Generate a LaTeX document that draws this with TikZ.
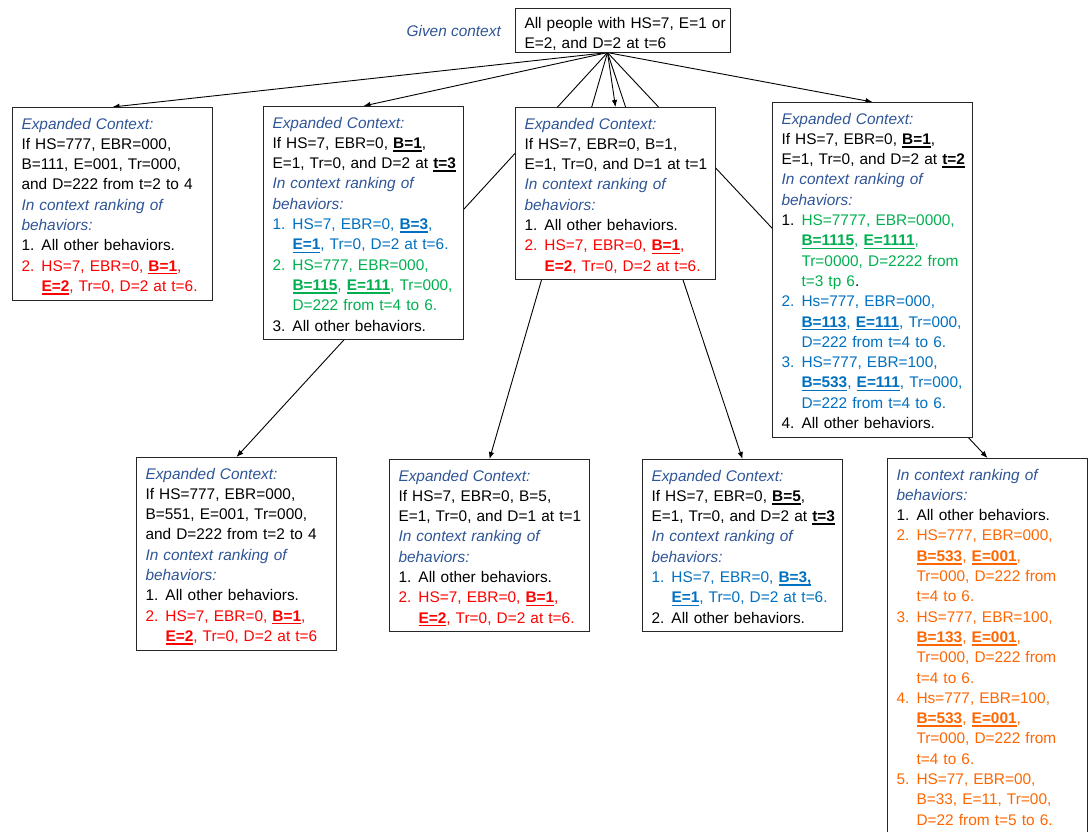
\documentclass[tikz,border=0pt]{standalone}
\usepackage{fontspec}
\setmainfont{Liberation Sans}
\usetikzlibrary{arrows.meta,backgrounds}
\definecolor{hdr}{RGB}{47,85,151}
\definecolor{rd}{RGB}{255,0,0}
\definecolor{bl}{RGB}{0,112,192}
\definecolor{gr}{RGB}{0,176,80}
\definecolor{og}{RGB}{255,102,0}
\newcommand\fs{\fontsize{15.4pt}{20.3pt}\selectfont}
\newcommand\hd[1]{\textcolor{hdr}{\itshape #1}}
\newcommand\bu[1]{\sbox0{\bfseries #1}\rlap{\rule[-3.3pt]{\wd0}{1.5pt}}\usebox0}
\newcommand\nm[1]{\makebox[20pt][l]{#1}}
\newcommand\ind{\hspace*{20pt}}
\newcommand\ft{\rule{0pt}{21.5pt}}
\newcommand\lt{\rule[-8.8pt]{0pt}{8.8pt}}
\tikzset{
  box/.style={draw=black!85, line width=1pt, fill=white, anchor=north west,
    inner xsep=9pt, inner ysep=0pt, text width=182pt, align=left, font=\fs},
  edge/.style={line width=0.9pt, -{Latex[length=7pt,width=5.5pt]}},
}
\begin{document}
\begin{tikzpicture}[x=1pt,y=-1pt]
\useasboundingbox (0,0) rectangle (1089,831);

\node[box, text width=197pt] (root) at (515,8)
 {\rule{0pt}{19.8pt}\mbox{All people with HS=7, E=1 or}\\
  \mbox{E=2, and D=2 at t=6}\rule[-3.5pt]{0pt}{3.5pt}};
\node[anchor=base east, inner sep=0pt, font=\fs\itshape, text=hdr] (gc) at (501,36.5) {Given context};
\coordinate (ap) at ([xshift=-15.5pt]root.south);

\node[box] (b1) at (12,107)
 {\ft\mbox{\hd{Expanded Context:}}\\
  \mbox{If HS=777, EBR=000,}\\
  \mbox{B=111, E=001, Tr=000,}\\
  \mbox{and D=222 from t=2 to 4}\\
  \mbox{\hd{In context ranking of}}\\
  \mbox{\hd{behaviors:}}\\
  \mbox{\nm{1.}All other behaviors.}\\
  \mbox{\color{rd}\nm{2.}HS=7, EBR=0, \bu{B=1},}\\
  \mbox{\color{rd}\ind\bu{E=2}, Tr=0, D=2 at t=6.}\lt};

\node[box] (b2) at (263,106)
 {\ft\mbox{\hd{Expanded Context:}}\\
  \mbox{If HS=7, EBR=0, \bu{B=1},}\\
  \mbox{E=1, Tr=0, and D=2 at \bu{t=3}}\\
  \mbox{\hd{In context ranking of}}\\
  \mbox{\hd{behaviors:}}\\
  \mbox{\color{bl}\nm{1.}HS=7, EBR=0, \bu{B=3},}\\
  \mbox{\color{bl}\ind\bu{E=1}, Tr=0, D=2 at t=6.}\\
  \mbox{\color{gr}\nm{2.}HS=777, EBR=000,}\\
  \mbox{\color{gr}\ind\bu{B=115}, \bu{E=111}, Tr=000,}\\
  \mbox{\color{gr}\ind D=222 from t=4 to 6.}\\
  \mbox{\nm{3.}All other behaviors.}\lt};

\node[box] (b3) at (515,107)
 {\ft\mbox{\hd{Expanded Context:}}\\
  \mbox{If HS=7, EBR=0, B=1,}\\
  \mbox{E=1, Tr=0, and D=1 at t=1}\\
  \mbox{\hd{In context ranking of}}\\
  \mbox{\hd{behaviors:}}\\
  \mbox{\nm{1.}All other behaviors.}\\
  \mbox{\color{rd}\nm{2.}HS=7, EBR=0, \bu{B=1},}\\
  \mbox{\color{rd}\ind\textbf{E=2}, Tr=0, D=2 at t=6.}\lt};

\node[box] (b4) at (772,102)
 {\ft\mbox{\hd{Expanded Context:}}\\
  \mbox{If HS=7, EBR=0, \bu{B=1},}\\
  \mbox{E=1, Tr=0, and D=2 at \bu{t=2}}\\
  \mbox{\hd{In context ranking of}}\\
  \mbox{\hd{behaviors:}}\\
  \mbox{\nm{1.}\color{gr}HS=7777, EBR=0000,}\\
  \mbox{\color{gr}\ind\bu{B=1115}, \bu{E=1111},}\\
  \mbox{\color{gr}\ind Tr=0000, D=2222 from}\\
  \mbox{\ind\textcolor{gr}{t=3 tp 6}.}\\
  \mbox{\color{bl}\nm{2.}Hs=777, EBR=000,}\\
  \mbox{\color{bl}\ind\bu{B=113}, \bu{E=111}, Tr=000,}\\
  \mbox{\color{bl}\ind D=222 from t=4 to 6.}\\
  \mbox{\color{bl}\nm{3.}HS=777, EBR=100,}\\
  \mbox{\color{bl}\ind\bu{B=533}, \bu{E=111}, Tr=000,}\\
  \mbox{\color{bl}\ind D=222 from t=4 to 6.}\\
  \mbox{\nm{4.}All other behaviors.}\lt};

\node[box] (c1) at (136,457)
 {\ft\mbox{\hd{Expanded Context:}}\\
  \mbox{If HS=777, EBR=000,}\\
  \mbox{B=551, E=001, Tr=000,}\\
  \mbox{and D=222 from t=2 to 4}\\
  \mbox{\hd{In context ranking of}}\\
  \mbox{\hd{behaviors:}}\\
  \mbox{\nm{1.}All other behaviors.}\\
  \mbox{\color{rd}\nm{2.}HS=7, EBR=0, \bu{B=1},}\\
  \mbox{\color{rd}\ind\bu{E=2}, Tr=0, D=2 at t=6}\lt};

\node[box] (c2) at (389,459)
 {\ft\mbox{\hd{Expanded Context:}}\\
  \mbox{If HS=7, EBR=0, B=5,}\\
  \mbox{E=1, Tr=0, and D=1 at t=1}\\
  \mbox{\hd{In context ranking of}}\\
  \mbox{\hd{behaviors:}}\\
  \mbox{\nm{1.}All other behaviors.}\\
  \mbox{\color{rd}\nm{2.}HS=7, EBR=0, \bu{B=1},}\\
  \mbox{\color{rd}\ind\bu{E=2}, Tr=0, D=2 at t=6.}\lt};

\node[box] (c3) at (642,459)
 {\ft\mbox{\hd{Expanded Context:}}\\
  \mbox{If HS=7, EBR=0, \bu{B=5},}\\
  \mbox{E=1, Tr=0, and D=2 at \bu{t=3}}\\
  \mbox{\hd{In context ranking of}}\\
  \mbox{\hd{behaviors:}}\\
  \mbox{\color{bl}\nm{1.}HS=7, EBR=0, \bu{B=3,}}\\
  \mbox{\color{bl}\ind\bu{E=1}, Tr=0, D=2 at t=6.}\\
  \mbox{\nm{2.}All other behaviors.}\lt};

\node[box] (c4) at (887,458)
 {\ft\mbox{\hd{In context ranking of}}\\
  \mbox{\hd{behaviors:}}\\
  \mbox{\nm{1.}All other behaviors.}\\
  \mbox{\color{og}\nm{2.}HS=777, EBR=000,}\\
  \mbox{\color{og}\ind\bu{B=533}, \bu{E=001},}\\
  \mbox{\color{og}\ind Tr=000, D=222 from}\\
  \mbox{\color{og}\ind t=4 to 6.}\\
  \mbox{\color{og}\nm{3.}HS=777, EBR=100,}\\
  \mbox{\color{og}\ind\bu{B=133}, \bu{E=001},}\\
  \mbox{\color{og}\ind Tr=000, D=222 from}\\
  \mbox{\color{og}\ind t=4 to 6.}\\
  \mbox{\color{og}\nm{4.}Hs=777, EBR=100,}\\
  \mbox{\color{og}\ind\bu{B=533}, \bu{E=001},}\\
  \mbox{\color{og}\ind Tr=000, D=222 from}\\
  \mbox{\color{og}\ind t=4 to 6.}\\
  \mbox{\color{og}\nm{5.}HS=77, EBR=00,}\\
  \mbox{\color{og}\ind B=33, E=11, Tr=00,}\\
  \mbox{\color{og}\ind D=22 from t=5 to 6.}\lt};

\begin{pgfonlayer}{background}
\foreach \t in {b1,b2,b3,b4,c1,c2,c3,c4}
  \draw[edge] (ap) -- (\t.north);
\end{pgfonlayer}
\end{tikzpicture}
\end{document}
